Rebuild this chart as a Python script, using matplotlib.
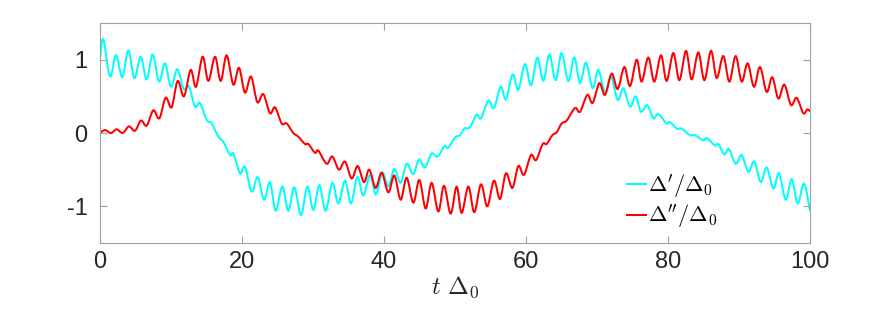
import matplotlib
matplotlib.use("Agg")
import matplotlib.pyplot as plt
import numpy as np
from matplotlib.path import Path
from matplotlib.patches import PathPatch
from matplotlib.lines import Line2D

# Delta' / Delta_0 (cyan)
t_re = [0, 0.47, 1.41, 2.25, 3.15, 3.99, 4.84, 5.73, 6.57, 7.42, 8.31, 9.15, 10.0, 10.89, 11.74,
        12.21, 12.58, 13.38, 14.08, 15.02, 15.73, 16.67, 17.37, 18.31, 18.78, 19.72, 20.42, 21.36, 22.21,
        23.10, 23.94, 24.74, 25.68, 26.53, 27.37, 28.31, 29.20, 30.05, 30.89, 31.78, 32.72, 33.57,
        34.51, 35.35, 36.24, 37.09, 38.03, 38.87, 39.77, 40.61, 41.46, 42.35, 43.19, 44.13, 44.93,
        45.77, 46.71, 47.56, 48.50, 49.06, 50.0, 50.70, 51.31, 52.11, 53.05, 53.66, 54.69, 55.49,
        56.43, 57.18, 58.12, 58.92, 59.86, 60.70, 61.60, 62.44, 63.29, 64.18, 65.02, 65.96, 66.81,
        67.61, 68.45, 69.39, 70.19, 71.13, 71.97, 72.91, 73.71, 74.65, 75.45, 76.20, 77.09, 77.93,
        78.64, 79.81, 80.28, 81.22, 81.93, 83.10, 83.80, 84.98, 85.45, 86.62, 87.09, 87.93, 88.59,
        89.53, 90.38, 91.31, 92.16, 93.05, 93.90, 94.84, 95.63, 96.57, 97.42, 98.26, 99.15, 100.0]
re_vals = [1.00, 1.28, 0.77, 1.06, 0.76, 1.13, 0.75, 1.04, 0.73, 1.07, 0.70, 0.95, 0.63, 0.87, 0.61,
           0.62, 0.63, 0.36, 0.41, 0.18, 0.13, -0.05, -0.12, -0.30, -0.28, -0.55, -0.46, -0.80, -0.60,
           -0.91, -0.67, -1.06, -0.73, -1.06, -0.74, -1.12, -0.73, -1.05, -0.71, -1.06, -0.68, -0.96,
           -0.65, -0.96, -0.60, -0.85, -0.57, -0.84, -0.54, -0.73, -0.49, -0.68, -0.42, -0.56, -0.36,
           -0.47, -0.28, -0.32, -0.18, -0.20, -0.06, -0.03, 0.06, 0.08, 0.25, 0.20, 0.44, 0.34,
           0.63, 0.46, 0.80, 0.59, 0.94, 0.65, 1.03, 0.71, 1.07, 0.72, 1.09, 0.71, 1.03,
           0.68, 0.96, 0.61, 0.86, 0.55, 0.77, 0.45, 0.61, 0.36, 0.50, 0.29, 0.38, 0.20,
           0.26, 0.13, 0.15, 0.06, 0.06, -0.03, -0.03, -0.10, -0.07, -0.17, -0.15, -0.29, -0.22,
           -0.42, -0.30, -0.53, -0.39, -0.67, -0.47, -0.76, -0.55, -0.91, -0.63, -0.96, -0.69, -1.06]

# Delta'' / Delta_0 (red)
t_im = [0, 0.70, 1.55, 2.35, 3.19, 4.08, 4.93, 5.77, 6.57, 7.51, 8.36, 9.25, 10.09, 10.94, 11.83,
        12.77, 13.52, 14.46, 15.26, 16.20, 17.0, 17.84, 18.78, 19.58, 20.42, 21.27, 22.16, 23.0,
        23.94, 24.65, 25.59, 26.29, 27.23, 27.93, 28.87, 29.34, 30.28, 30.75, 31.92, 32.72, 33.66,
        34.51, 35.45, 36.29, 37.18, 37.93, 38.83, 39.67, 40.61, 41.46, 42.35, 43.19, 44.13, 44.98,
        45.87, 46.71, 47.65, 48.45, 49.39, 50.23, 50.94, 51.88, 52.72, 53.66, 54.55, 55.49, 56.34,
        57.18, 58.08, 58.92, 59.72, 60.70, 61.41, 62.35, 62.91, 63.71, 64.32, 65.02, 65.73, 66.90,
        67.61, 68.64, 69.39, 70.33, 71.13, 72.07, 72.91, 73.85, 74.65, 75.59, 76.29, 77.23, 78.07,
        79.01, 79.81, 80.75, 81.60, 82.54, 83.33, 84.27, 85.12, 86.06, 86.86, 87.79, 88.64, 89.53,
        90.38, 91.22, 92.11, 92.96, 93.90, 94.69, 95.54, 96.39, 97.32, 98.12, 99.06, 99.6, 100.0]
im_vals = [0.0, 0.04, 0.0, 0.05, 0.0, 0.09, 0.03, 0.17, 0.10, 0.31, 0.20, 0.48, 0.35, 0.71, 0.50,
           0.86, 0.63, 1.04, 0.71, 1.04, 0.71, 1.06, 0.66, 0.89, 0.55, 0.77, 0.42, 0.53,
           0.27, 0.35, 0.13, 0.13, 0.0, -0.05, -0.15, -0.15, -0.27, -0.24, -0.42, -0.32, -0.50,
           -0.39, -0.62, -0.45, -0.67, -0.50, -0.75, -0.54, -0.81, -0.58, -0.91, -0.61, -0.95, -0.64,
           -1.03, -0.68, -1.07, -0.72, -1.10, -0.73, -1.09, -0.73, -1.08, -0.70, -1.00, -0.65, -0.90,
           -0.55, -0.75, -0.45, -0.57, -0.30, -0.37, -0.15, -0.15, -0.03, 0.01, 0.13, 0.17, 0.34,
           0.29, 0.52, 0.41, 0.68, 0.52, 0.81, 0.60, 0.90, 0.64, 1.0, 0.70, 1.03, 0.70,
           1.06, 0.71, 1.09, 0.72, 1.12, 0.73, 1.10, 0.72, 1.12, 0.75, 1.05, 0.70, 1.05,
           0.70, 0.95, 0.63, 0.90, 0.56, 0.76, 0.47, 0.66, 0.38, 0.48, 0.27, 0.32, 0.30]

x_ticks = [0, 20, 40, 60, 80, 100]
y_ticks = [-1, 0, 1]
y_tick_labels = ["-1", "0", "1"]
labels = [r"$\Delta'/\Delta_0$", r"$\Delta''/\Delta_0$"]
colors = [(0, 1, 1), (1, 0, 0)]

plt.rcParams['font.family'] = ['Liberation Sans', 'DejaVu Sans']
plt.rcParams['mathtext.fontset'] = 'cm'
plt.rcParams['axes.unicode_minus'] = False


def smooth_path(x, y):
    """Smooth (Catmull-Rom style Bezier) path through the given points."""
    x = np.asarray(x, float)
    y = np.asarray(y, float)
    n = len(x)
    verts = [(x[0], y[0])]
    codes = [Path.MOVETO]
    for i in range(n - 1):
        i0 = max(i - 1, 0)
        i3 = min(i + 2, n - 1)
        c1 = (x[i] + (x[i + 1] - x[i0]) / 6, y[i] + (y[i + 1] - y[i0]) / 6)
        c2 = (x[i + 1] - (x[i3] - x[i]) / 6, y[i + 1] - (y[i3] - y[i]) / 6)
        verts += [c1, c2, (x[i + 1], y[i + 1])]
        codes += [Path.CURVE4] * 3
    return Path(verts, codes)


fig = plt.figure(figsize=(8.72, 3.12), dpi=100)
ax = fig.add_axes([100/872, 1 - 243/312, 710/872, 220/312])

lw = 1.45
for (tx, vy), c in zip([(t_re, re_vals), (t_im, im_vals)], colors):
    ax.add_patch(PathPatch(smooth_path(tx, vy), fill=False, edgecolor=c, lw=lw,
                           joinstyle='round', capstyle='round'))

ax.set_xlim(0, 100)
ax.set_ylim(-1.5, 1.5)
ax.set_xticks(x_ticks)
ax.set_yticks(y_ticks)
ax.set_yticklabels(y_tick_labels)

spine_c = '#a0a0a0'
for s in ax.spines.values():
    s.set_color(spine_c)
    s.set_linewidth(0.8)
ax.tick_params(direction='in', length=5, width=0.8, color=spine_c,
               top=True, right=True, labelsize=17, labelcolor='#262626')
ax.tick_params(axis='x', pad=6)
ax.tick_params(axis='y', pad=9)

ax.set_xlabel(r"$t\ \Delta_0$", fontsize=18, color='#262626', labelpad=1)

handles = [Line2D([], [], color=c, lw=lw) for c in colors]
leg = ax.legend(handles, labels, loc='center left', bbox_to_anchor=(0.742, 0.19), frameon=False,
                fontsize=16, handlelength=0.85, handletextpad=0.12, labelspacing=0.15,
                borderpad=0, borderaxespad=0)

fig.savefig("out.png", dpi=100)
